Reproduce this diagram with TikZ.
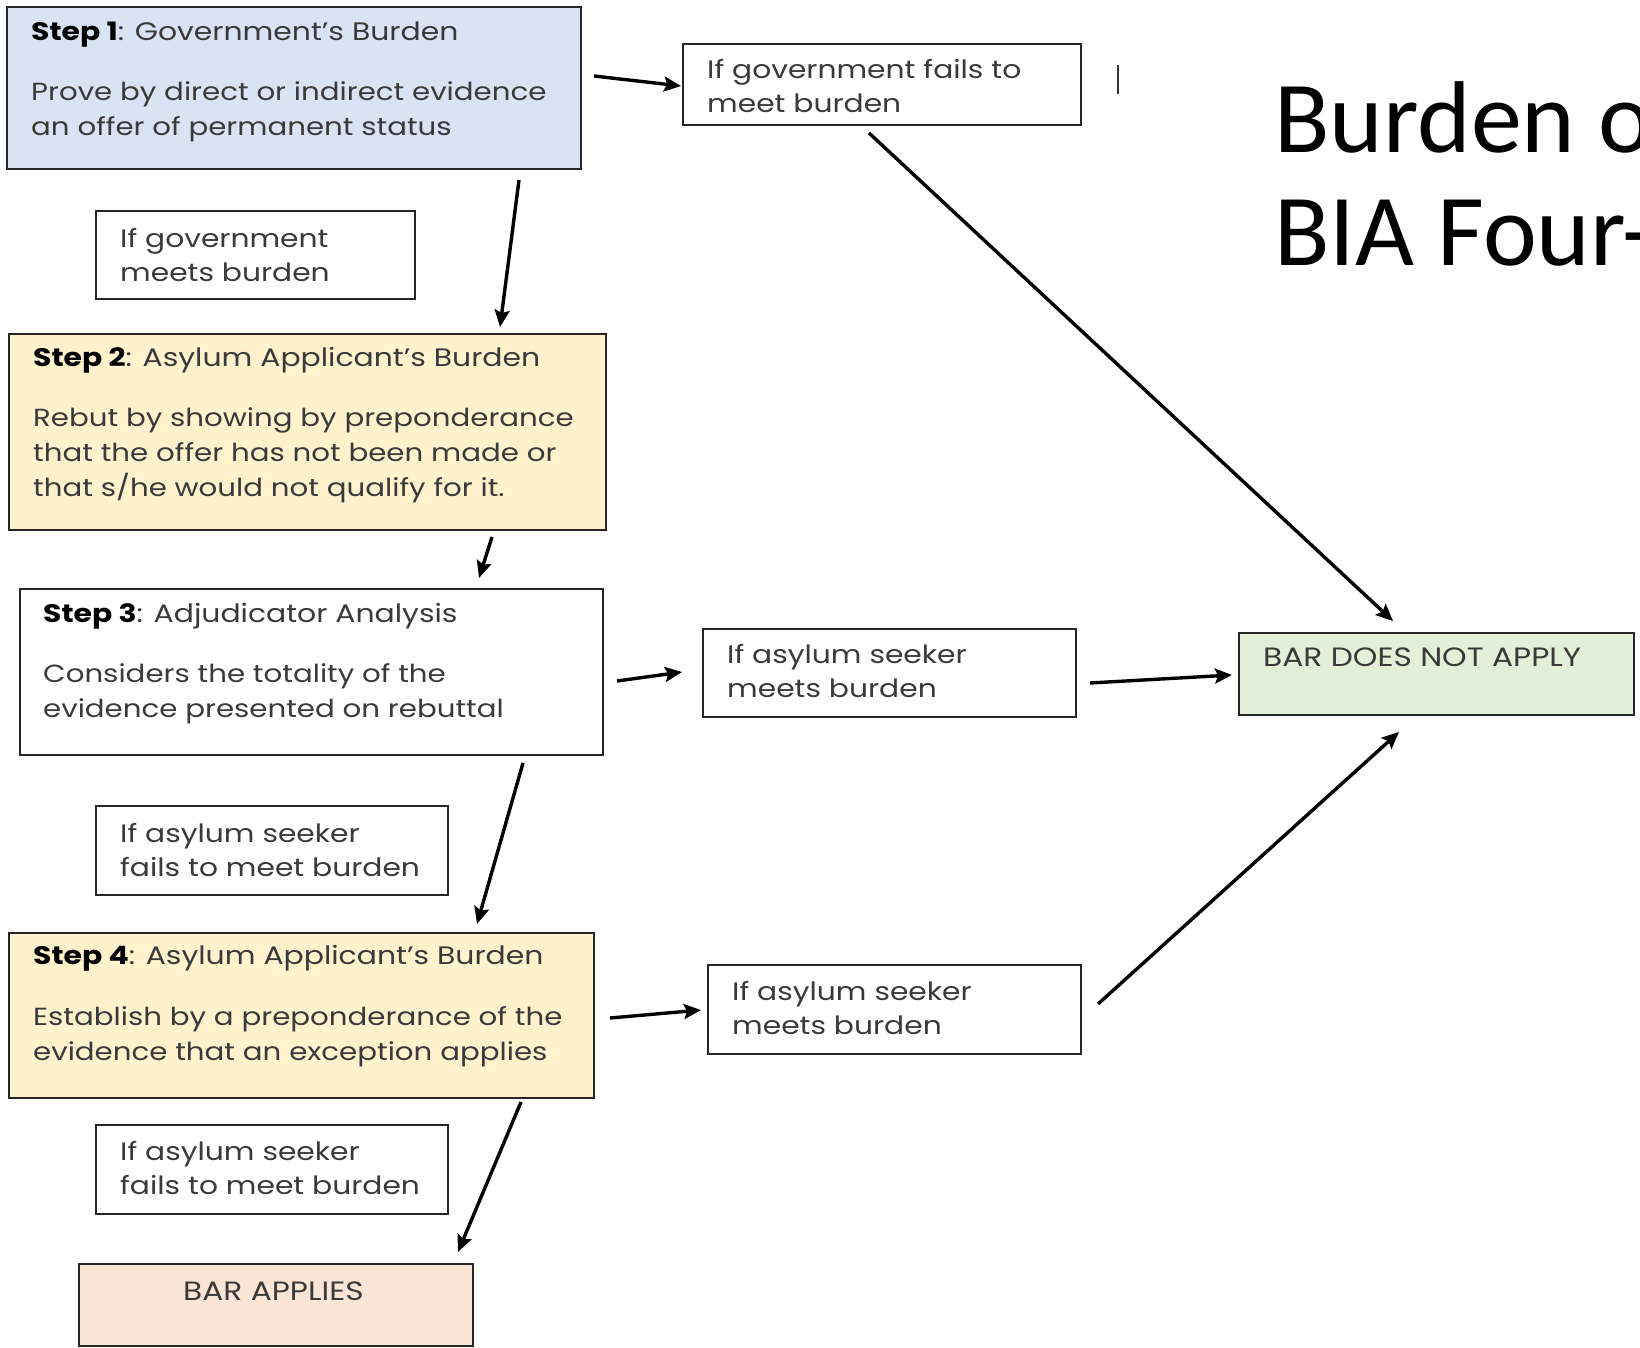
\documentclass[tikz,border=0pt]{standalone}
\usepackage{fontspec}
\setmainfont{Poppins}[FakeStretch=1.18]
\newfontfamily\titlefont{Carlito}
\usetikzlibrary{arrows.meta,calc}
\definecolor{bluefill}{HTML}{DAE3F3}
\definecolor{yellowfill}{HTML}{FFF2CC}
\definecolor{greenfill}{HTML}{E2F0D9}
\definecolor{pinkfill}{HTML}{FBE5D6}
\definecolor{txtgray}{HTML}{3A3A3A}
\newcommand\lns[1]{\vtop{\halign{##\hfil\cr#1\crcr}}}
\begin{document}
\begin{tikzpicture}[x=1pt,y=-1pt,
  box/.style={draw=black!85, line width=2pt, anchor=north west, inner sep=0pt},
  txt/.style={anchor=base west, inner sep=0pt, text=txtgray},
  body/.style={txt, font=\fontsize{24.8}{35}\selectfont},
  head/.style={txt, font=\fontsize{25.3}{30}\selectfont},
  small/.style={txt, font=\fontsize{25.2}{34.5}\selectfont},
  caps/.style={txt, font=\fontsize{26.5}{30}\selectfont},
  arr/.style={line width=3.4pt, -{Stealth[length=17pt,width=15pt,inset=3pt]}},
]
\useasboundingbox[fill=white] (0,0) rectangle (1640,1347);
\newcommand\mkbox[6]{\node[box,fill=#6,minimum width=#4pt-#2pt,minimum height=#5pt-#3pt] (#1) at (#2,#3) {};}
% boxes
\mkbox{s1}{6}{6}{580}{168}{bluefill}
\mkbox{gf}{682}{43}{1080}{124}{white}
\mkbox{gm}{95}{210}{414}{298}{white}
\mkbox{s2}{8}{333}{605}{529}{yellowfill}
\mkbox{s3}{19}{588}{602}{754}{white}
\mkbox{m1}{702}{628}{1075}{716}{white}
\mkbox{bd}{1238}{632}{1633}{714}{greenfill}
\mkbox{f1}{95}{805}{447}{894}{white}
\mkbox{s4}{8}{932}{593}{1097}{yellowfill}
\mkbox{m2}{707}{964}{1080}{1053}{white}
\mkbox{f2}{95}{1124}{447}{1213}{white}
\mkbox{ba}{78}{1263}{472}{1345}{pinkfill}
% texts
\node[head] (t1h) at (31,40) {\textcolor{black}{\textbf{Step 1}}: Government’s Burden};
\node[body] (t1b) at (31,100) {\lns{Prove by direct or indirect evidence\cr an offer of permanent status}};
\node[small] (tgf) at (707,78) {\lns{If government fails to\cr meet burden}};
\node[small] (tgm) at (120,247) {\lns{If government\cr meets burden}};
\node[head] (t2h) at (33,366) {\textcolor{black}{\textbf{Step 2}}: Asylum Applicant’s Burden};
\node[body] (t2b) at (33,426) {\lns{Rebut by showing by preponderance\cr that the offer has not been made or\cr that s/he would not qualify for it.}};
\node[head] (t3h) at (43,622) {\textcolor{black}{\textbf{Step 3}}: Adjudicator Analysis};
\node[body] (t3b) at (43,682) {\lns{Considers the totality of the\cr evidence presented on rebuttal}};
\node[small] (tm1) at (727,663) {\lns{If asylum seeker\cr meets burden}};
\node[caps] (tbd) at (1263,666) {BAR DOES NOT APPLY};
\node[small] (tf1) at (120,842) {\lns{If asylum seeker\cr fails to meet burden}};
\node[head] (t4h) at (33,964) {\textcolor{black}{\textbf{Step 4}}: Asylum Applicant’s Burden};
\node[body] (t4b) at (33,1025) {\lns{Establish by a preponderance of the\cr evidence that an exception applies}};
\node[small] (tm2) at (732,1000) {\lns{If asylum seeker\cr meets burden}};
\node[small] (tf2) at (120,1160) {\lns{If asylum seeker\cr fails to meet burden}};
\node[caps] (tba) at (183,1300) {BAR APPLIES};
% title
\node[anchor=base west, inner sep=0pt, font=\titlefont\fontsize{102}{113}\selectfont] (title) at (1274,152) {\lns{Burden\ o\cr BIA Four-}};
% stray cursor mark
\draw[line width=1.6pt, black!80] (1118,65) -- (1118,94);
% arrows
\draw[arr] ([shift={(12,70)}]s1.north east) -- ([shift={(-1,43)}]gf.north west);
\draw[arr] ([shift={(-63,10)}]s1.south east) -- ([shift={(492,-6)}]s2.north west);
\draw[arr] ([shift={(187,7)}]gf.south west) -- ([shift={(155,-11)}]bd.north west);
\draw[arr] ([shift={(484,6)}]s2.south west) -- ([shift={(460,-10)}]s3.north west);
\draw[arr] ([shift={(13,93)}]s3.north east) -- ([shift={(-20,44)}]m1.north west);
\draw[arr] ([shift={(13,55)}]m1.north east) -- ([shift={(-6,43)}]bd.north west);
\draw[arr] ([shift={(504,7)}]s3.south west) -- ([shift={(469,-8)}]s4.north west);
\draw[arr] ([shift={(15,86)}]s4.north east) -- ([shift={(-6,46)}]m2.north west);
\draw[arr] ([shift={(16,40)}]m2.north east) -- ([shift={(161,16)}]bd.south west);
\draw[arr] ([shift={(513,3)}]s4.south west) -- ([shift={(380,-11)}]ba.north west);
\end{tikzpicture}
\end{document}
